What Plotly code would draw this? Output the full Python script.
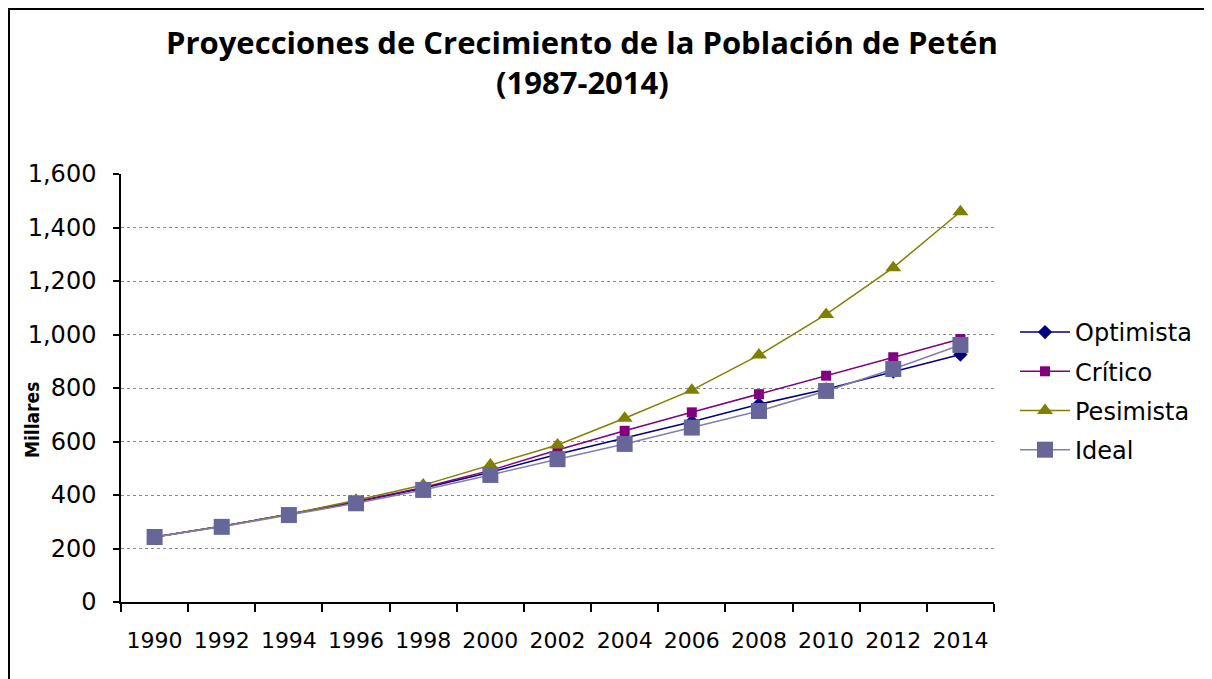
import plotly.graph_objects as go

years = ['1990', '1992', '1994', '1996', '1998', '2000', '2002',
         '2004', '2006', '2008', '2010', '2012', '2014']

optimista = [243, 283, 328, 374, 425, 485, 552, 612, 674, 739, 795, 861, 925]
critico = [243, 283, 328, 376, 428, 492, 568, 640, 709, 777, 846, 915, 983]
pesimista = [243, 283, 328, 380, 437, 512, 587, 687, 792, 923, 1075, 1250, 1459]
ideal = [243, 281, 325, 369, 419, 475, 534, 591, 652, 714, 789, 871, 961]

# page has an 8px body margin, so the figure is drawn at 1204x671
W, H = 1204, 671
L, T, PW, PH = 113, 166, 873, 428
B = T + PH

fig = go.Figure()

fig.add_trace(go.Scatter(x=years, y=optimista, name='Optimista', mode='lines+markers',
                         legendgroup='a',
                         line=dict(color='#000080', width=1.5),
                         marker=dict(symbol='diamond', size=11, color='#000080')))
fig.add_trace(go.Scatter(x=years, y=critico, name='Crítico', mode='lines+markers',
                         legendgroup='b',
                         line=dict(color='#800080', width=1.5),
                         marker=dict(symbol='square', size=10, color='#800080')))
fig.add_trace(go.Scatter(x=years, y=pesimista, name='Pesimista', mode='lines+markers',
                         legendgroup='c',
                         line=dict(color='#808000', width=1.5),
                         marker=dict(symbol='triangle-up', size=14, color='#808000')))
fig.add_trace(go.Scatter(x=years, y=ideal, name='Ideal', mode='lines+markers',
                         legendgroup='d',
                         line=dict(color='#8080b0', width=1.5),
                         marker=dict(symbol='square', size=16, color='#666699')))

# outer chart frame
fig.add_shape(type='rect', xref='paper', yref='paper',
              x0=(1 - L) / PW, x1=(1197 - L) / PW, y0=-0.3, y1=(B - 1) / PH,
              line=dict(color='black', width=2))

tx = (574 - L) / PW
fig.add_annotation(text='<b>Proyecciones de Crecimiento de la Población de Petén</b>',
                   xref='paper', yref='paper', x=tx, y=(B - 34) / PH,
                   xanchor='center', yanchor='middle',
                   showarrow=False, font=dict(family='Open Sans', size=31, color='black'))
fig.add_annotation(text='<b>(1987-2014)</b>',
                   xref='paper', yref='paper', x=tx, y=(B - 74) / PH,
                   xanchor='center', yanchor='middle',
                   showarrow=False, font=dict(family='Open Sans', size=31, color='black'))

# y axis title
fig.add_annotation(text='<b>Millares</b>', textangle=-90,
                   xref='paper', yref='paper', x=(24 - L) / PW, y=(B - 412) / PH,
                   xanchor='center', yanchor='middle',
                   showarrow=False,
                   font=dict(family='DejaVu Sans Condensed', size=19, color='black'))

fig.update_layout(
    width=W, height=H,
    margin=dict(l=L, r=W - L - PW, t=T, b=H - B, autoexpand=False),
    plot_bgcolor='white', paper_bgcolor='white',
    font=dict(family='DejaVu Sans', size=22, color='black'),
    legend=dict(x=(1007 - L) / PW, y=(B - 302) / PH, xanchor='left', yanchor='top',
                font=dict(family='DejaVu Sans', size=24),
                traceorder='grouped', tracegroupgap=5,
                itemwidth=50),
    showlegend=True,
)

fig.update_xaxes(
    type='category', tickson='boundaries', tickangle=0, automargin=False,
    range=[-0.5, len(years) - 0.5],
    showline=True, linewidth=1.5, linecolor='black',
    ticks='outside', ticklen=8, tickwidth=1.5, tickcolor='black',
    showgrid=False, ticklabelstandoff=18,
    tickfont=dict(size=22),
)
fig.update_yaxes(
    range=[0, 1600], dtick=200, tickformat=',', automargin=False,
    showline=True, linewidth=1.5, linecolor='black',
    ticks='outside', ticklen=6, tickwidth=1.5, tickcolor='black',
    showgrid=True, gridcolor='#888888', gridwidth=1, griddash='dot',
    zeroline=False, ticklabelstandoff=12,
    tickfont=dict(size=24),
)

fig.write_html('out.html')
